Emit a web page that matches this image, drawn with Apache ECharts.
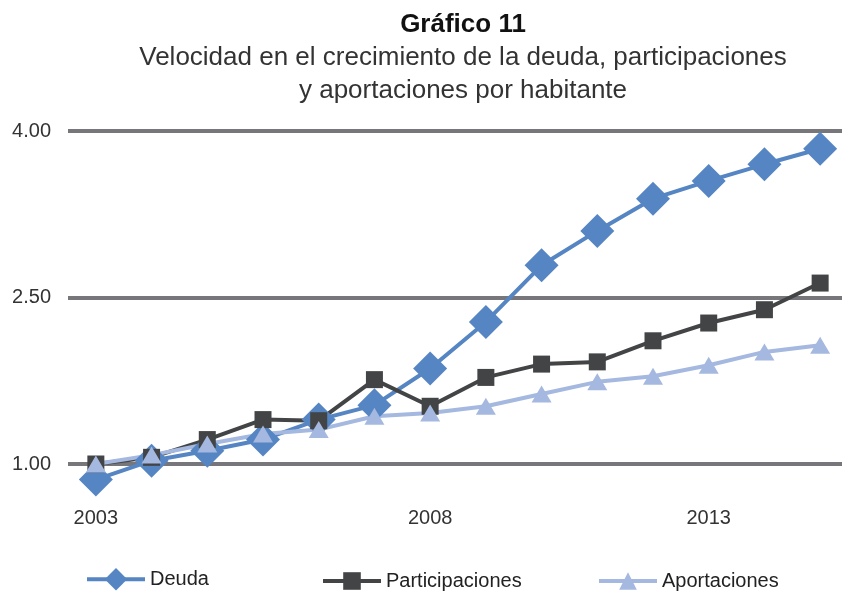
<!DOCTYPE html>
<html>
<head>
<meta charset="utf-8">
<script src="https://cdn.jsdelivr.net/npm/echarts@6/dist/echarts.min.js"></script>
<style>
  html, body { margin: 0; padding: 0; background: #fff; }
  #chart { width: 842px; height: 596px; }
</style>
</head>
<body>
<div id="chart"></div>
<script>
// etiquetas del eje x (solo se ven tres)
const tickLabels = ['2003', '', '', '', '', '', '2008', '', '', '', '', '2013', '', '']

const deuda = [0.86, 1.03, 1.12, 1.22, 1.40, 1.53, 1.86, 2.28, 2.79, 3.10, 3.39, 3.55, 3.70, 3.84]
const participaciones = [1.00, 1.06, 1.22, 1.40, 1.39, 1.76, 1.52, 1.78, 1.90, 1.92, 2.11, 2.27, 2.39, 2.63]
const aportaciones = [1.00, 1.08, 1.18, 1.27, 1.31, 1.43, 1.46, 1.52, 1.63, 1.74, 1.79, 1.89, 2.01, 2.07]

const yTicks = { min: 1, max: 4, interval: 1.5 }

const font = 'Liberation Sans'
const chart = echarts.init(document.getElementById('chart'))

// una leyenda por serie, el icono toma 0.8 de itemHeight
function legendAt(name, left, h) {
  return {
    data: [name],
    top: 582 - h / 2,
    left: left,
    padding: 0,
    itemWidth: 58,
    itemHeight: h,
    itemGap: 0,
    lineStyle: { width: 4 },
    textStyle: { fontFamily: font, fontSize: 20, color: '#222' }
  }
}

chart.setOption({
  animation: false,
  title: [
    {
      text: 'Gráfico 11',
      left: 458,
      top: 7,
      textAlign: 'center',
      textStyle: { fontFamily: font, fontSize: 26, fontWeight: 'bold', color: '#111' }
    },
    {
      text: 'Velocidad en el crecimiento de la deuda, participaciones\ny aportaciones por habitante',
      left: 458,
      top: 36,
      textAlign: 'center',
      textStyle: { fontFamily: font, fontSize: 26, fontWeight: 'normal', color: '#333', lineHeight: 33 }
    }
  ],
  legend: [
    legendAt('Deuda', 85, 28),
    legendAt('Participaciones', 321, 22),
    legendAt('Aportaciones', 597, 22)
  ],
  grid: { left: 68, right: -6, top: 131, bottom: 132, outerBoundsMode: 'none' },
  xAxis: {
    type: 'category',
    data: tickLabels,
    boundaryGap: true,
    axisLine: { show: false },
    axisTick: { show: false },
    axisLabel: {
      interval: 0,
      margin: 44,
      fontFamily: font,
      fontSize: 20,
      color: '#333'
    }
  },
  yAxis: {
    type: 'value',
    min: yTicks.min,
    max: yTicks.max,
    interval: yTicks.interval,
    axisLine: { show: false },
    axisTick: { show: false },
    axisLabel: {
      margin: 17,
      fontFamily: font,
      fontSize: 20,
      color: '#333',
      formatter: v => v.toFixed(2)
    },
    splitLine: { lineStyle: { color: '#77777b', width: 4 } }
  },
  series: [
    {
      name: 'Deuda',
      type: 'line',
      data: deuda,
      clip: false,
      symbol: 'diamond',
      symbolSize: 34,
      lineStyle: { color: '#5585c2', width: 4 },
      itemStyle: { color: '#5585c2' }
    },
    {
      name: 'Participaciones',
      type: 'line',
      data: participaciones,
      clip: false,
      symbol: 'rect',
      symbolSize: 17,
      lineStyle: { color: '#434446', width: 4 },
      itemStyle: { color: '#434446' }
    },
    {
      name: 'Aportaciones',
      type: 'line',
      data: aportaciones,
      clip: false,
      symbol: 'triangle',
      symbolSize: [20, 17],
      lineStyle: { color: '#a5b8df', width: 4 },
      itemStyle: { color: '#a5b8df' }
    }
  ]
})
</script>
</body>
</html>
